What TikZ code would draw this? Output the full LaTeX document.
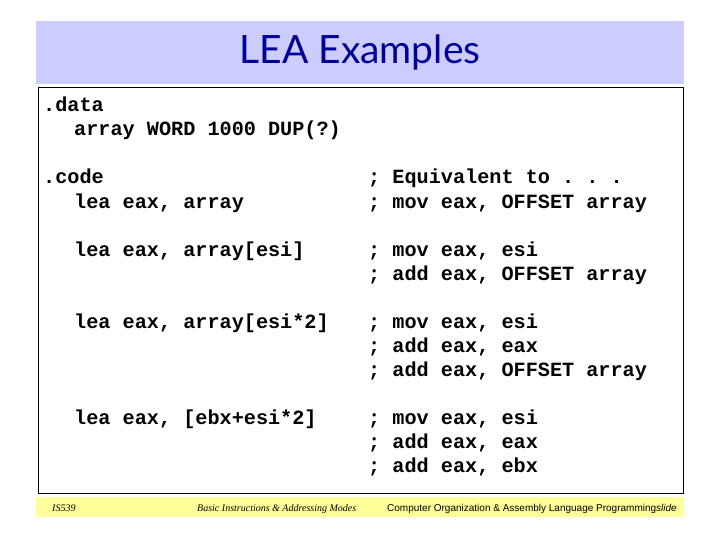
\documentclass[tikz,border=0pt]{standalone}
\usepackage{fontspec}
\setmonofont{Liberation Mono}
\newfontfamily\titlefont{Lato}
\newfontfamily\footserif{Liberation Serif}
\newfontfamily\footsans{Liberation Sans}
\definecolor{bandblue}{RGB}{204,204,255}
\definecolor{bandyellow}{RGB}{255,255,153}
\definecolor{titleblue}{RGB}{0,0,150}

\begin{document}
\begin{tikzpicture}[
    x=1pt, y=-1pt,
    band/.style={fill=#1, draw=none},
    codebox/.style={draw=black, line width=1pt, fill=white},
    code/.style={anchor=base west, inner sep=0pt, font=\ttfamily\bfseries\fontsize{20.2}{24}\selectfont},
    foot/.style={anchor=base west, inner sep=0pt}
]
\useasboundingbox (0,0) rectangle (720,540);

% Title
\fill[band=bandblue] (36,21) rectangle (684,84);
\node[inner sep=0pt, anchor=base, text=titleblue, font=\titlefont\fontsize{39}{44}\selectfont] (title) at (360,64) {LEA Examples};

% Code area
\draw[codebox] (38,88) rectangle (683,493);

\node[code] (dataseg) at (43,112) {.data};
\node[code] (arraydef) at (74,136) {array WORD 1000 DUP(?)};

\node[code] (codeseg) at (43,184) {.code};
\node[code] (leaone) at (74,208) {lea eax, array};
\node[code] (cmtonea) at (368,184) {; Equivalent to . . .};
\node[code] (cmtoneb) at (368,208) {; mov eax, OFFSET array};

\node[code] (leatwo) at (74,256) {lea eax, array[esi]};
\node[code] (cmttwoa) at (368,256) {; mov eax, esi};
\node[code] (cmttwob) at (368,280) {; add eax, OFFSET array};

\node[code] (leathree) at (74,328) {lea eax, array[esi*2]};
\node[code] (cmtthreea) at (368,328) {; mov eax, esi};
\node[code] (cmtthreeb) at (368,352) {; add eax, eax};
\node[code] (cmtthreec) at (368,376) {; add eax, OFFSET array};

\node[code] (leafour) at (74,424) {lea eax, [ebx+esi*2]};
\node[code] (cmtfoura) at (368,424) {; mov eax, esi};
\node[code] (cmtfourb) at (368,448) {; add eax, eax};
\node[code] (cmtfourc) at (368,472) {; add eax, ebx};

% Footer
\fill[band=bandyellow] (36,497) rectangle (684,517);
\node[foot, font=\footserif\itshape\fontsize{10}{12}\selectfont] (course) at (52,511) {IS539};
\node[foot, font=\footserif\itshape\fontsize{10}{12}\selectfont] (chapter) at (197,511) {Basic Instructions \& Addressing Modes};
\node[foot, font=\footsans\fontsize{10}{12}\selectfont] (book) at (387,511) {Computer Organization \& Assembly Language Programming\textit{slide}};

\end{tikzpicture}
\end{document}
